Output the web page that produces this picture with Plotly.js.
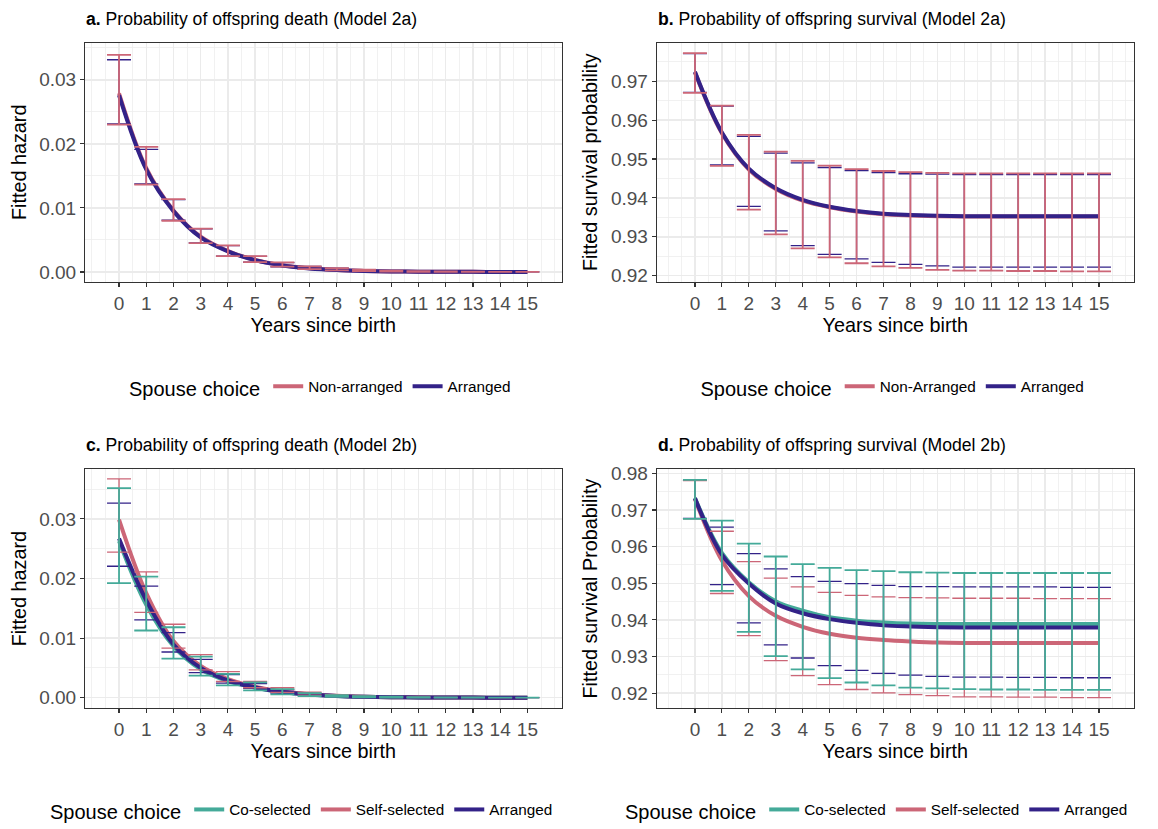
<!DOCTYPE html>
<html>
<head>
<meta charset="utf-8">
<script src="https://cdn.plot.ly/plotly-3.0.1.min.js"></script>
<style>html,body{margin:0;padding:0;background:#fff;}#chart{width:1158px;height:829px;}</style>
</head>
<body>
<div id="chart"></div>
<script>
// ---------- data ----------
const years = [0,1,2,3,4,5,6,7,8,9,10,11,12,13,14,15];
const yearLabels = ["0","1","2","3","4","5","6","7","8","9","10","11","12","13","14","15"];

// Panel a: hazard, Model 2a
const aNonFit = [0.0279,0.0162,0.0096,0.0055,0.00327,0.00187,0.00104,0.00057,0.00031,0.00017,0.00009,0.00005,0.00003,0.00002,0.00001,0.00001];
const aNonLo  = [0.0230,0.01364,0.0080,0.00451,0.00246,0.00154,0.00082,0.00046,0.00026,0.00012,0.00006,0.00003,0.00002,0.00001,0.0,0.0];
const aNonHi  = [0.0339,0.01954,0.01138,0.00677,0.00415,0.00246,0.00149,0.00087,0.0006,0.00035,0.0002,0.00012,0.00008,0.00005,0.00003,0.00002];
const aArrFit = [0.0276,0.0160,0.0095,0.0054,0.00322,0.00184,0.00102,0.00056,0.0003,0.00016,0.00009,0.00005,0.00003,0.00002,0.00001,0.00001];
const aArrLo  = [0.02313,0.01374,0.0081,0.00455,0.00248,0.00152,0.0008,0.00045,0.00025,0.00012,0.00006,0.00003,0.00002,0.00001,0.0,0.0];
const aArrHi  = [0.03313,0.01913,0.01128,0.00672,0.00412,0.00244,0.00147,0.00086,0.00058,0.00034,0.0002,0.00012,0.00008,0.00005,0.00003,0.00002];

// Panel b: survival, Model 2a
const bNonFit = [0.9722,0.9566,0.9473,0.9423,0.9393,0.9376,0.9365,0.9358,0.9355,0.9353,0.9352,0.9352,0.9352,0.9352,0.9352,0.9352];
const bNonLo  = [0.9670,0.9482,0.9370,0.9306,0.9270,0.9247,0.9232,0.9224,0.9220,0.9215,0.9213,0.9213,0.9212,0.9212,0.9211,0.9211];
const bNonHi  = [0.9772,0.9637,0.9562,0.9519,0.9495,0.9483,0.9474,0.9469,0.9466,0.9464,0.9463,0.9463,0.9463,0.9463,0.9463,0.9463];
const bArrFit = [0.9724,0.9568,0.9475,0.9425,0.9395,0.9377,0.9366,0.9359,0.9356,0.9354,0.9353,0.9353,0.9353,0.9353,0.9353,0.9353];
const bArrLo  = [0.9671,0.9485,0.9378,0.9315,0.9277,0.9255,0.9243,0.9234,0.9229,0.9225,0.9222,0.9222,0.9222,0.9222,0.9222,0.9222];
const bArrHi  = [0.9771,0.9636,0.9558,0.9515,0.9490,0.9478,0.9470,0.9465,0.9462,0.9461,0.9460,0.9460,0.9460,0.9460,0.9460,0.9460];

// Panel c: hazard, Model 2b
const cCoFit   = [0.0263,0.0156,0.00867,0.00478,0.00278,0.00167,0.00093,0.00052,0.00029,0.00016,0.00009,0.00005,0.00003,0.00002,0.00001,0.00001];
const cCoLo    = [0.01922,0.01128,0.00656,0.00372,0.00206,0.00122,0.00056,0.00028,0.00013,0.00006,0.00003,0.00001,0.00001,0.0,0.0,0.0];
const cCoHi    = [0.03517,0.02033,0.01183,0.00689,0.004,0.00256,0.00144,0.00078,0.00045,0.00027,0.00016,0.0001,0.00006,0.00004,0.00002,0.00001];
const cSelfFit = [0.0299,0.01756,0.0095,0.00533,0.00311,0.00183,0.00105,0.0006,0.00033,0.00018,0.0001,0.00006,0.00003,0.00002,0.00001,0.00001];
const cSelfLo  = [0.02444,0.01433,0.00833,0.00467,0.00272,0.00167,0.00089,0.00044,0.0002,0.00009,0.00004,0.00002,0.00001,0.0,0.0,0.0];
const cSelfHi  = [0.03672,0.02111,0.01233,0.00722,0.00439,0.00272,0.00167,0.00094,0.00052,0.0003,0.00017,0.0001,0.00006,0.00004,0.00002,0.00001];
const cArrFit  = [0.0267,0.01633,0.00894,0.005,0.00289,0.00172,0.00097,0.00055,0.0003,0.00016,0.00009,0.00005,0.00003,0.00002,0.00001,0.00001];
const cArrLo   = [0.02206,0.01306,0.00767,0.00422,0.00244,0.00156,0.00078,0.00039,0.00018,0.00008,0.00004,0.00002,0.00001,0.0,0.0,0.0];
const cArrHi   = [0.03267,0.01872,0.01094,0.00644,0.00389,0.00239,0.00133,0.00072,0.00042,0.00025,0.00015,0.00009,0.00005,0.00003,0.00002,0.00001];

// Panel d: survival, Model 2b
const dCoFit   = [0.9733,0.9583,0.9503,0.9451,0.9425,0.9407,0.9398,0.9393,0.9390,0.9389,0.9389,0.9389,0.9389,0.9389,0.9389,0.9389];
const dCoLo    = [0.9676,0.9479,0.9367,0.9301,0.9265,0.9241,0.9229,0.9221,0.9215,0.9213,0.9211,0.9210,0.9210,0.9209,0.9209,0.9209];
const dCoHi    = [0.9782,0.9671,0.9608,0.9573,0.9552,0.9542,0.9536,0.9533,0.9530,0.9529,0.9528,0.9528,0.9528,0.9528,0.9528,0.9528];
const dSelfFit = [0.9730,0.9562,0.9465,0.9411,0.9381,0.9362,0.9351,0.9345,0.9341,0.9338,0.9337,0.9337,0.9337,0.9337,0.9337,0.9337];
const dSelfLo  = [0.9676,0.9472,0.9357,0.9289,0.9248,0.9223,0.9210,0.9201,0.9196,0.9193,0.9190,0.9190,0.9189,0.9189,0.9188,0.9188];
const dSelfHi  = [0.9780,0.9642,0.9559,0.9514,0.9490,0.9475,0.9467,0.9463,0.9461,0.9460,0.9459,0.9459,0.9459,0.9458,0.9458,0.9458];
const dArrFit  = [0.9732,0.9578,0.9499,0.9445,0.9418,0.9402,0.9392,0.9385,0.9382,0.9380,0.9379,0.9379,0.9379,0.9379,0.9379,0.9379];
const dArrLo   = [0.9677,0.9496,0.9392,0.9332,0.9296,0.9275,0.9262,0.9254,0.9249,0.9246,0.9244,0.9244,0.9243,0.9243,0.9242,0.9242];
const dArrHi   = [0.9781,0.9653,0.9581,0.9539,0.9518,0.9505,0.9499,0.9494,0.9491,0.9491,0.9490,0.9490,0.9490,0.9490,0.9489,0.9489];

// ---------- styling ----------
const ROSE = '#CC6677', INDIGO = '#332288', TEAL = '#44AA99';
const FONT = 'Liberation Sans, Arial, sans-serif';
const LINE_W = 4, CAP = 12;
const ERR_TOP = 1.8, ERR_UNDER = 1.3;

function lineTrace(name, fit, color, xa, ya, legend) {
  return {x: years, y: fit, name: name, type: 'scatter', mode: 'lines',
    line: {color: color, width: LINE_W, shape: 'spline', smoothing: 1},
    xaxis: xa, yaxis: ya, legend: legend, hoverinfo: 'skip'};
}
function errTrace(fit, lo, hi, color, thick, xa, ya) {
  return {x: years, y: fit, type: 'scatter', mode: 'markers', showlegend: false,
    marker: {size: 2, opacity: 0},
    error_y: {type: 'data', symmetric: false,
      array: hi.map((v, i) => v - fit[i]), arrayminus: fit.map((v, i) => v - lo[i]),
      color: color, thickness: thick, width: CAP},
    xaxis: xa, yaxis: ya, hoverinfo: 'skip'};
}

const traces = [
  // a
  lineTrace('Non-arranged', aNonFit, ROSE, 'x', 'y', 'legend'),
  lineTrace('Arranged', aArrFit, INDIGO, 'x', 'y', 'legend'),
  errTrace(aArrFit, aArrLo, aArrHi, INDIGO, ERR_UNDER, 'x', 'y'),
  errTrace(aNonFit, aNonLo, aNonHi, ROSE, ERR_TOP, 'x', 'y'),
  // b
  lineTrace('Non-Arranged', bNonFit, ROSE, 'x2', 'y2', 'legend2'),
  lineTrace('Arranged', bArrFit, INDIGO, 'x2', 'y2', 'legend2'),
  errTrace(bArrFit, bArrLo, bArrHi, INDIGO, ERR_UNDER, 'x2', 'y2'),
  errTrace(bNonFit, bNonLo, bNonHi, ROSE, ERR_TOP, 'x2', 'y2'),
  // c
  lineTrace('Co-selected', cCoFit, TEAL, 'x3', 'y3', 'legend3'),
  lineTrace('Self-selected', cSelfFit, ROSE, 'x3', 'y3', 'legend3'),
  lineTrace('Arranged', cArrFit, INDIGO, 'x3', 'y3', 'legend3'),
  errTrace(cArrFit, cArrLo, cArrHi, INDIGO, ERR_UNDER, 'x3', 'y3'),
  errTrace(cSelfFit, cSelfLo, cSelfHi, ROSE, ERR_UNDER, 'x3', 'y3'),
  errTrace(cCoFit, cCoLo, cCoHi, TEAL, ERR_TOP, 'x3', 'y3'),
  // d
  lineTrace('Co-selected', dCoFit, TEAL, 'x4', 'y4', 'legend4'),
  lineTrace('Self-selected', dSelfFit, ROSE, 'x4', 'y4', 'legend4'),
  lineTrace('Arranged', dArrFit, INDIGO, 'x4', 'y4', 'legend4'),
  errTrace(dArrFit, dArrLo, dArrHi, INDIGO, ERR_UNDER, 'x4', 'y4'),
  errTrace(dSelfFit, dSelfLo, dSelfHi, ROSE, ERR_UNDER, 'x4', 'y4'),
  errTrace(dCoFit, dCoLo, dCoHi, TEAL, ERR_TOP, 'x4', 'y4'),
];

const W = 1158, H = 829;
const px = v => v / W, py = v => 1 - v / H;

function xAxis(domain, range, anchor) {
  return {domain: domain, range: range, anchor: anchor,
    tickmode: 'array', tickvals: years, ticktext: yearLabels,
    ticks: 'outside', ticklen: 4, tickwidth: 1.1, tickcolor: '#333333',
    tickfont: {family: FONT, size: 19, color: '#4D4D4D'},
    showline: true, mirror: true, linecolor: '#333333', linewidth: 1,
    showgrid: true, gridcolor: '#EBEBEB', gridwidth: 1.5, zeroline: false,
    minor: {tickmode: 'linear', tick0: 0, dtick: 0.5, showgrid: true, gridcolor: '#EEEEEE', gridwidth: 0.8, ticks: ''},
    title: {text: 'Years since birth', font: {family: FONT, size: 19.8, color: '#000'}, standoff: 4}};
}
function yAxis(domain, range, anchor, tickvals, title) {
  return {domain: domain, range: range, anchor: anchor,
    tickmode: 'array', tickvals: tickvals, tickformat: '.2f',
    ticks: 'outside', ticklen: 4, tickwidth: 1.1, tickcolor: '#333333',
    tickfont: {family: FONT, size: 19, color: '#4D4D4D'},
    showline: true, mirror: true, linecolor: '#333333', linewidth: 1,
    showgrid: true, gridcolor: '#EBEBEB', gridwidth: 1.5, zeroline: false,
    minor: {tickmode: 'linear', tick0: tickvals[0], dtick: (tickvals[1] - tickvals[0]) / 2, showgrid: true, gridcolor: '#EEEEEE', gridwidth: 0.8, ticks: ''},
    title: {text: title, font: {family: FONT, size: 19.8, color: '#000'}, standoff: 7}};
}

const colL = [px(85), px(561.7)], colR = [px(656.7), px(1134)];
const rowT = [py(284.3), py(43)], rowB = [py(714.3), py(473)];

function legendCfg(x, xanchor, y) {
  return {orientation: 'h', x: x, xanchor: xanchor, y: y, yanchor: 'middle',
    bgcolor: 'rgba(0,0,0,0)', borderwidth: 0,
    font: {family: FONT, size: 15.3, color: '#000'},
    title: {text: 'Spouse choice', side: 'left', font: {family: FONT, size: 20, color: '#000'}},
    itemwidth: 30, traceorder: 'normal'};
}

function titleAnn(text, x, y) {
  return {text: text, xref: 'paper', yref: 'paper', x: x, y: y, xanchor: 'left', yanchor: 'middle',
    showarrow: false, font: {family: FONT, size: 17.6, color: '#000'}};
}

const layout = {
  width: W, height: H, margin: {l: 0, r: 0, t: 0, b: 0},
  paper_bgcolor: '#fff', plot_bgcolor: '#fff', font: {family: FONT},
  xaxis: xAxis(colL, [-1.25, 16.26], 'y'),
  yaxis: yAxis(rowT, [-0.00155, 0.0358], 'x', [0, 0.01, 0.02, 0.03], 'Fitted hazard'),
  xaxis2: xAxis(colR, [-1.42, 16.30], 'y2'),
  yaxis2: yAxis(rowT, [0.9184, 0.9799], 'x2', [0.92, 0.93, 0.94, 0.95, 0.96, 0.97], 'Fitted survival probability'),
  xaxis3: xAxis(colL, [-1.25, 16.26], 'y3'),
  yaxis3: yAxis(rowB, [-0.00177, 0.03838], 'x3', [0, 0.01, 0.02, 0.03], 'Fitted hazard'),
  xaxis4: xAxis(colR, [-1.42, 16.30], 'y4'),
  yaxis4: yAxis(rowB, [0.91587, 0.98119], 'x4', [0.92, 0.93, 0.94, 0.95, 0.96, 0.97, 0.98], 'Fitted survival Probability'),
  legend: legendCfg(px(321.5), 'center', py(391)),
  legend2: legendCfg(px(894), 'center', py(391)),
  legend3: legendCfg(px(48), 'left', py(818)),
  legend4: legendCfg(px(623), 'left', py(818)),
  annotations: [
    titleAnn('<b>a.</b> Probability of offspring death (Model 2a)', px(84), py(19.5)),
    titleAnn('<b>b.</b> Probability of offspring survival (Model 2a)', px(655.7), py(19.5)),
    titleAnn('<b>c.</b> Probability of offspring death (Model 2b)', px(84), py(449)),
    titleAnn('<b>d.</b> Probability of offspring survival (Model 2b)', px(655.7), py(449)),
  ],
  showlegend: true,
};

Plotly.newPlot('chart', traces, layout, {staticPlot: true, displayModeBar: false});
</script>
</body>
</html>
